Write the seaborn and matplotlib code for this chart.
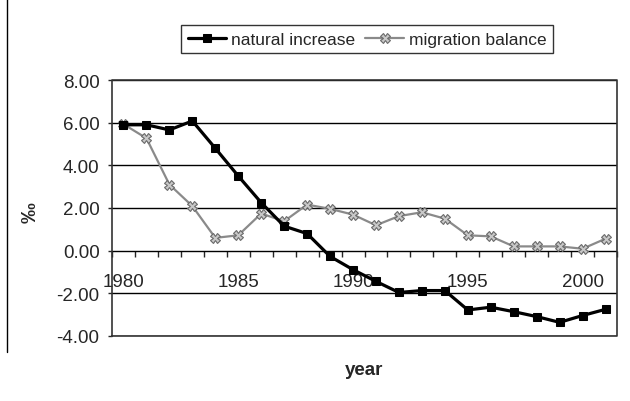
import pandas as pd
import matplotlib.pyplot as plt
import seaborn as sns
from matplotlib.lines import Line2D

years = list(range(1980, 2002))
natural_increase = [5.9, 5.9, 5.66, 6.08, 4.8, 3.5, 2.25, 1.15, 0.8, -0.27, -0.89,
                    -1.44, -1.96, -1.87, -1.87, -2.78, -2.65, -2.86, -3.09, -3.36, -3.04, -2.75]
migration_balance = [5.93, 5.27, 3.1, 2.09, 0.6, 0.72, 1.74, 1.38, 2.16, 1.96, 1.69,
                     1.19, 1.62, 1.8, 1.5, 0.72, 0.67, 0.2, 0.2, 0.2, 0.09, 0.56]
y_ticks = [-4, -2, 0, 2, 4, 6, 8]
x_labels = [1980, 1985, 1990, 1995, 2000]

df = pd.DataFrame({'year': years, 'natural increase': natural_increase,
                   'migration balance': migration_balance})

sns.set_style('white')
plt.rcParams['font.family'] = ['Liberation Sans', 'DejaVu Sans']

fig = plt.figure(figsize=(6.3, 4.02), dpi=100)
ax = fig.add_axes([112 / 630, 65 / 402, 505 / 630, 256 / 402])

for y in y_ticks:
    ax.axhline(y, color='black', lw=1, zorder=1)

sns.lineplot(data=df, x='year', y='natural increase', ax=ax, color='black', lw=2.3,
             marker='s', markersize=6, markeredgecolor='black', label='natural increase', zorder=4)
sns.lineplot(data=df, x='year', y='migration balance', ax=ax, color='#8a8a8a', lw=1.6,
             marker='X', markersize=6.5, markerfacecolor='#c8c8c8', markeredgecolor='#6a6a6a',
             markeredgewidth=0.8, label='migration balance', zorder=3)

ax.set_xlim(1979.5, 2001.5)
ax.set_ylim(-4, 8)
ax.set_yticks(y_ticks)
ax.set_yticklabels([f'{v:.2f}' for v in y_ticks], fontsize=13.5)
ax.tick_params(axis='y', direction='out', length=3, width=1, pad=6, left=True)

ax.spines['bottom'].set_position(('data', 0))
ax.spines['bottom'].set_visible(False)
ax.set_xticks(x_labels)
ax.set_xticklabels([str(v) for v in x_labels], fontsize=13.5)
ax.set_xticks([y + 0.5 for y in range(1979, 2002)], minor=True)
ax.tick_params(axis='x', which='major', length=0, pad=16)
ax.tick_params(axis='x', which='minor', direction='out', length=4, width=1, bottom=True)
ax.xaxis.set_ticks_position('bottom')

for side in ['left', 'right', 'top']:
    ax.spines[side].set_visible(False)
# plot area border
ax.plot([0, 0, 1, 1, 0], [0, 1, 1, 0, 0], transform=ax.transAxes, color='#333333',
        lw=1.2, clip_on=False, zorder=5)

ax.set_xlabel('')
ax.set_ylabel('')
fig.text(364 / 630, 1 - 371 / 402, 'year', ha='center', va='center', fontsize=13.5, fontweight='bold')
fig.text(30 / 630, 1 - 213 / 402, '‰', ha='center', va='center', fontsize=15,
         fontweight='bold', rotation=90)

leg = ax.legend(loc='center', bbox_to_anchor=(367 / 630, 1 - 40 / 402),
                bbox_transform=fig.transFigure, ncol=2, frameon=True, fontsize=12.5,
                handlelength=2.2, handletextpad=0.3, columnspacing=0.6,
                borderpad=0.35, fancybox=False)
leg.get_frame().set_edgecolor('black')
leg.get_frame().set_linewidth(1)

fig.add_artist(Line2D([7 / 630, 7 / 630], [1 - 353 / 402, 1.0], color='black', lw=1,
                      transform=fig.transFigure))

fig.savefig('out.png', dpi=100)
